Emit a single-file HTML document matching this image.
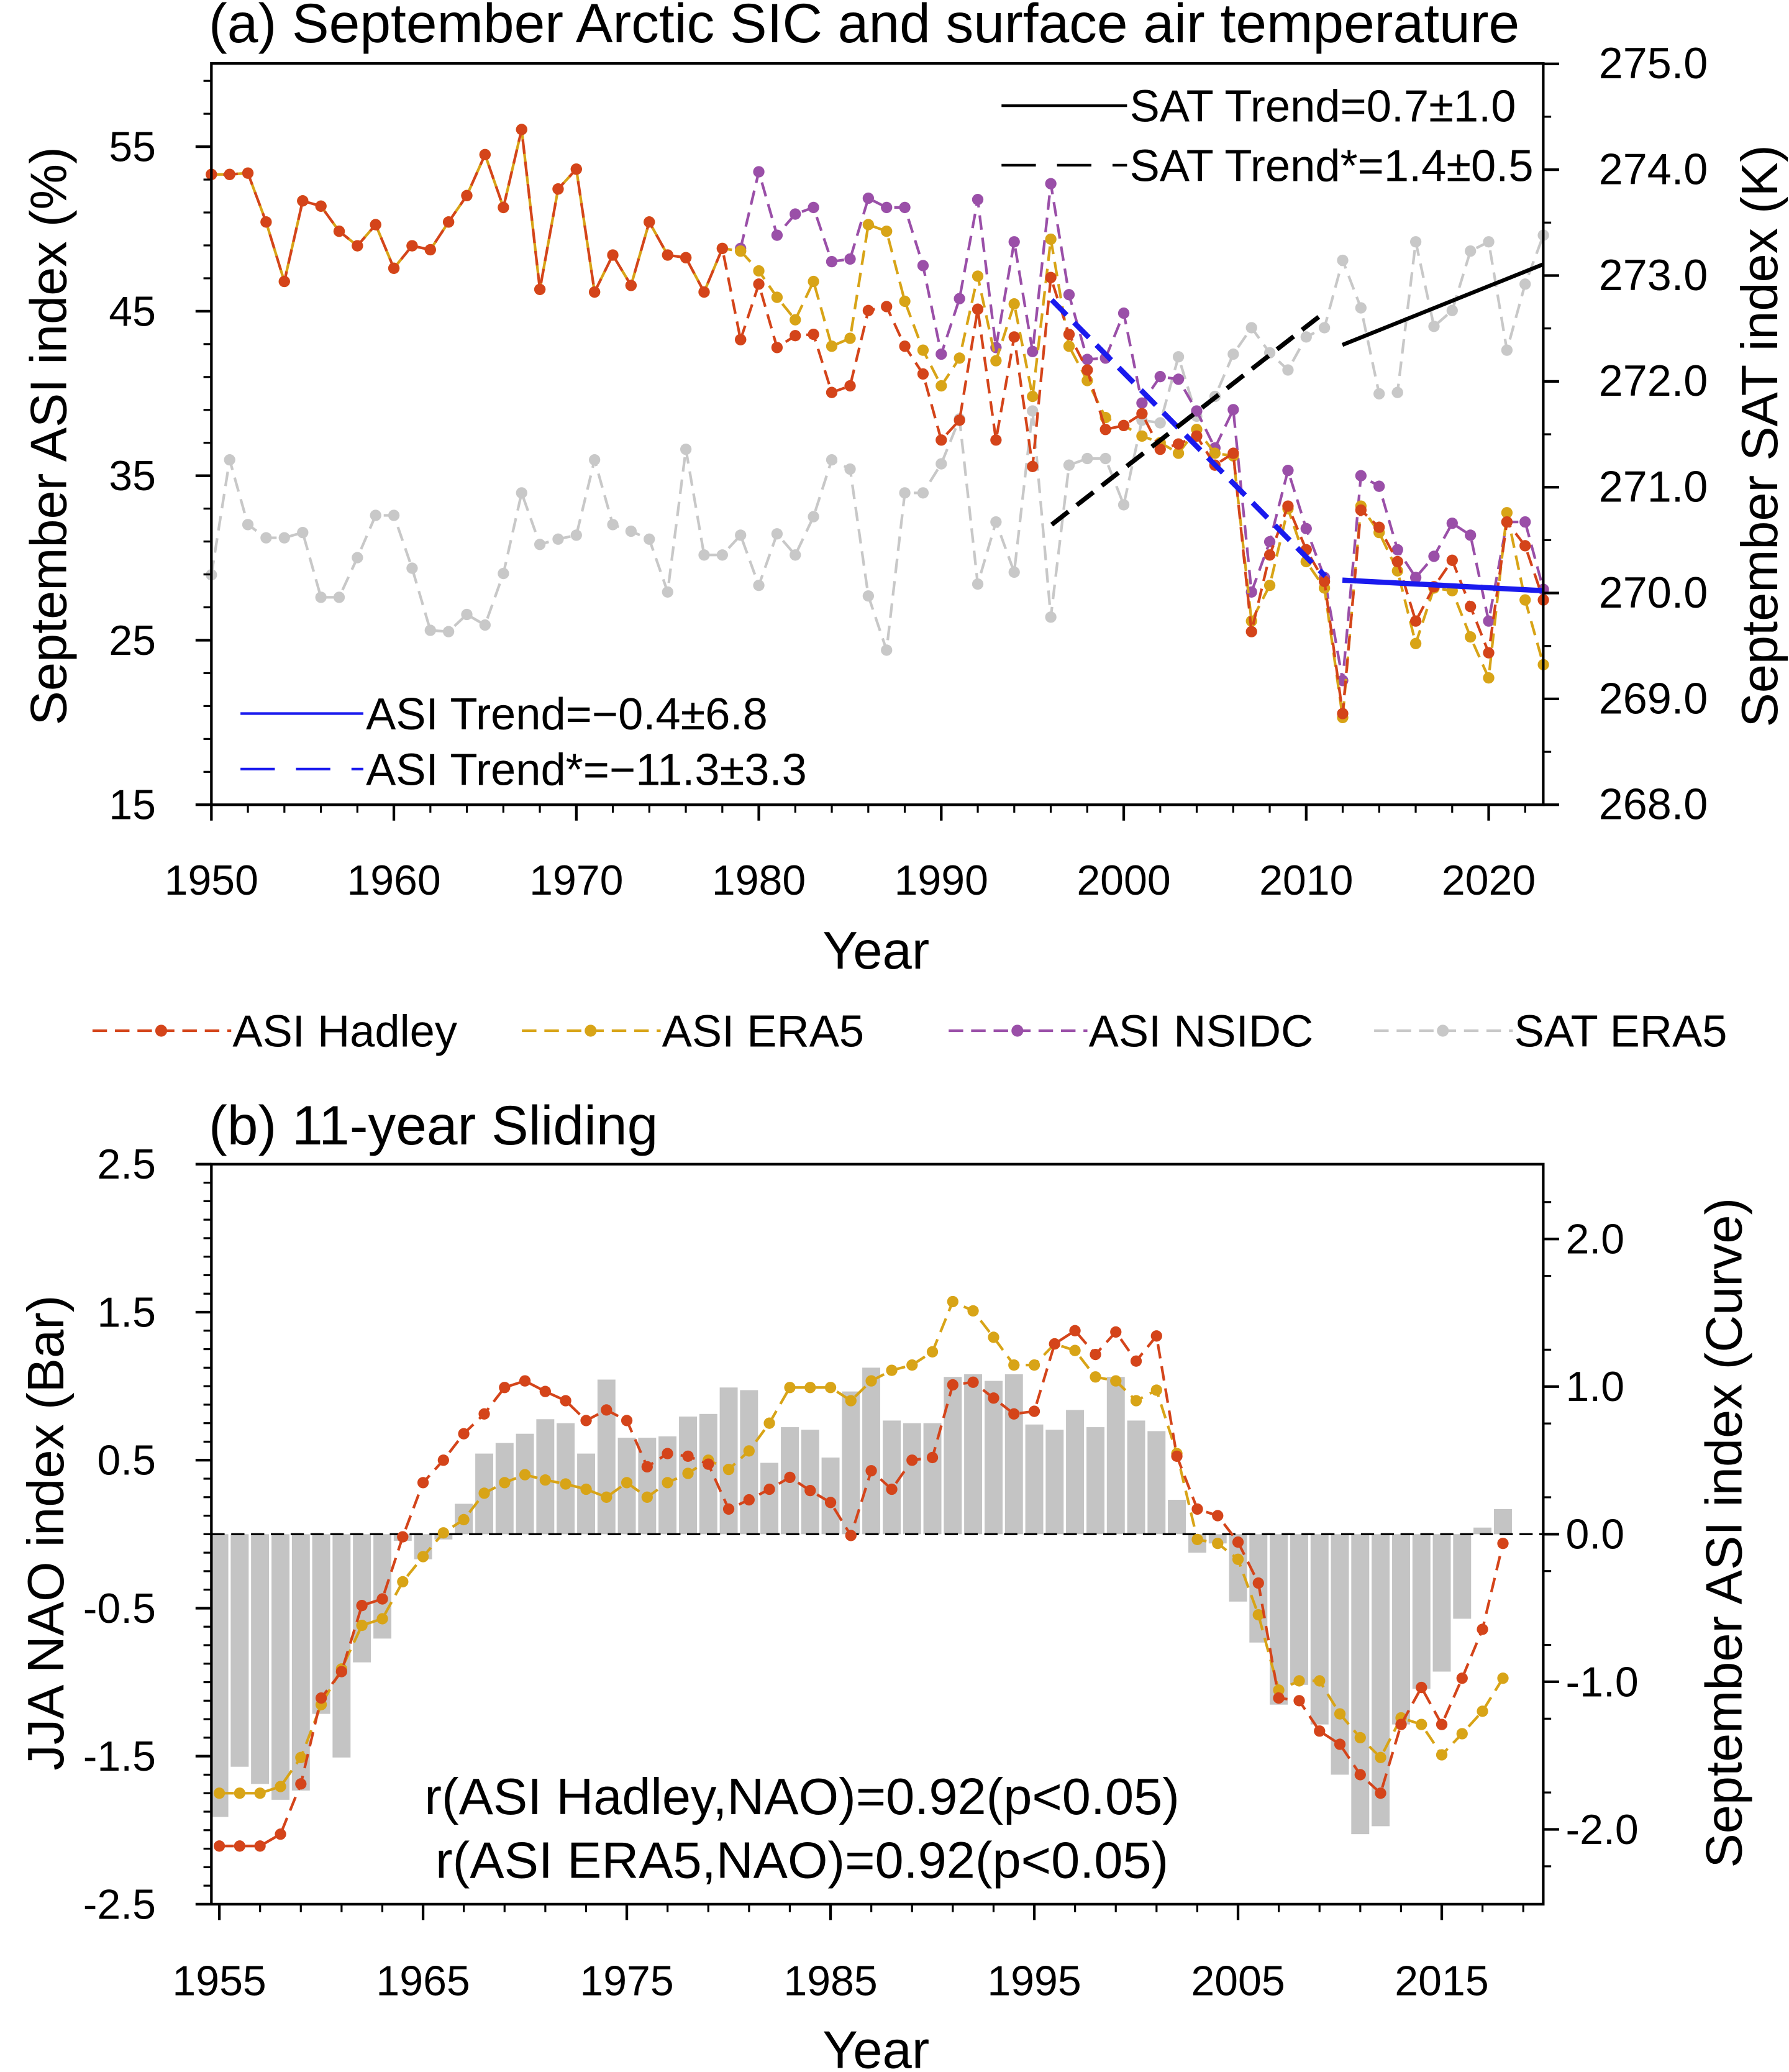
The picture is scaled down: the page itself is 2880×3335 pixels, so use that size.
<!DOCTYPE html>
<html><head><meta charset="utf-8"><style>
html,body{margin:0;padding:0;background:#fff;}
svg{display:block;}
text{font-family:"Liberation Sans",sans-serif;fill:#000;}
</style></head><body>
<svg id="s" width="2880" height="3335" viewBox="0 0 1354 1568" preserveAspectRatio="none" xmlns="http://www.w3.org/2000/svg"></svg>
<script>
var o=[];
function L(x1,y1,x2,y2,c,w,d){o.push('<line x1="'+x1+'" y1="'+y1+'" x2="'+x2+'" y2="'+y2+'" stroke="'+c+'" stroke-width="'+w+'"'+(d?' stroke-dasharray="'+d+'"':'')+'/>');}
function T(x,y,s,sz,a,rot){o.push('<text x="'+x+'" y="'+y+'" font-size="'+sz+'" text-anchor="'+(a||'start')+'"'+(rot?' transform="rotate(-90 '+x+' '+y+')"':'')+'>'+s+'</text>');}
function series(x0,y0,dx,ys,c,off){var p=ys.map(function(y,i){return (x0+i*dx).toFixed(1)+','+y;}).join(' ');
o.push('<polyline points="'+p+'" fill="none" stroke="'+c+'" stroke-width="2" stroke-dasharray="11,6"'+(off?' stroke-dashoffset="'+off+'"':'')+'/>');
ys.forEach(function(y,i){o.push('<circle cx="'+(x0+i*dx).toFixed(1)+'" cy="'+y+'" r="4.3" fill="'+c+'"/>');});}
// Panel a
var ax=function(yr){return 160+(yr-1950)*13.81;};
var had=[132,132,131,168,213,152,156,175,186,170,203,186,189,168,148,117,157,98,219,143,128,221,193,216,168,193,195,221,188,257,215,263,254,253,297,292,235,232,262,283,333,318,234,333,255,353,210,253,280,325,322,313,340,336,330,352,343,478,420,383,416,440,540,386,399,425,470,444,424,459,494,395,413,454];
var era=[190,205,225,242,213,262,256,170,175,228,265,292,271,209,273,230,300,181,262,288,316,322,330,335,343,325,343,345,470,443,385,425,445,543,383,403,432,487,445,447,482,513,388,454,503];
var ns=[188,130,178,162,157,198,196,150,157,157,201,268,226,151,263,183,266,139,223,272,271,237,305,285,287,311,339,310,448,410,356,400,437,515,360,368,416,437,421,396,405,470,395,395,446];
var sat=[435,348,397,407,407,403,452,452,422,390,390,430,477,478,465,473,434,373,412,408,405,348,397,402,408,448,340,420,420,405,443,404,420,391,348,355,451,492,373,373,351,317,442,395,433,311,467,352,347,347,382,318,320,270,315,300,268,248,267,280,255,248,197,233,298,297,183,247,235,190,183,265,215,178];
series(160,0,13.81,sat,'#c8c8c8');
series(ax(1979),0,13.81,ns,'#9a4fa8');
series(160,0,13.81,had.slice(0,29).concat([era[0]]),'#d8a417');
series(ax(1979),0,13.81,era,'#d8a417');
series(160,0,13.81,had.slice(0,30),'#d4441a',8);
series(ax(1979),0,13.81,had.slice(29),'#d4441a');
L(796,227,1003,436,'#1a1aee',4,'16,8');L(1016,439,1168,447,'#1a1aee',4);
L(796,397,1003,236,'#000',3.5,'16,8');L(1016,261,1168,200,'#000',3);
o.push('<rect x="160" y="48" width="1008" height="561" fill="none" stroke="#000" stroke-width="2"/>');
[15,25,35,45,55].forEach(function(v){var y=609-(v-15)*12.45;L(148,y,160,y,'#000',2);T(118,y+11,v,32,'end');});
for(var v=17;v<60;v+=2){var y=609-(v-15)*12.45;L(154,y,160,y,'#000',1.5);}
for(var k=268;k<=275;k++){var y=609-(k-268)*80.1;L(1168,y,1180,y,'#000',2);T(1210,y+11,k+'.0',33);}
for(var k=268.5;k<275;k+=1){var y=609-(k-268)*80.1;L(1168,y,1174,y,'#000',1.5);}
for(var yr=1950;yr<=2023;yr+=2){var x=ax(yr);L(x,609,x,(yr%10==0)?621:615,'#000',yr%10==0?2:1.5);}
for(var yr=1950;yr<=2020;yr+=10)T(ax(yr),677,yr,32,'middle');
T(663,733,'Year',40,'middle');
T(50,330,'September ASI index (%)',39,'middle',1);
T(1345,330,'September SAT index (K)',39,'middle',1);
T(158,32,'(a) September Arctic SIC and surface air temperature',42);
L(758,80,853,80,'#000',2);T(855,92,'SAT Trend=0.7±1.0',34);
L(758,125,853,125,'#000',2,'26,16');T(855,137,'SAT Trend*=1.4±0.5',34);
L(182,540,275,540,'#1a1aee',2);T(277,552,'ASI Trend=−0.4±6.8',34);
L(182,582,275,582,'#1a1aee',2,'26,16');T(277,594,'ASI Trend*=−11.3±3.3',34);
// legend row
[[70,'#d4441a','ASI Hadley'],[395,'#d8a417','ASI ERA5'],[718,'#9a4fa8','ASI NSIDC'],[1040,'#c8c8c8','SAT ERA5']].forEach(function(l){
L(l[0],780,l[0]+105,780,l[1],2,'11,6');o.push('<circle cx="'+(l[0]+52)+'" cy="780" r="4.5" fill="'+l[1]+'"/>');T(l[0]+106,792,l[2],34);});
// Panel b
var bx=function(yr){return 166+(yr-1955)*15.42;};
var bars=[1375,1337,1350,1362,1355,1297,1330,1258,1240,1166,1180,1165,1138,1100,1092,1085,1074,1077,1100,1044,1088,1088,1087,1072,1070,1050,1052,1107,1080,1082,1103,1053,1035,1075,1077,1077,1042,1040,1045,1040,1078,1082,1067,1080,1042,1075,1083,1135,1175,1168,1212,1243,1290,1275,1305,1343,1388,1382,1305,1278,1265,1225,1156,1142];
bars.forEach(function(y,i){var x=bx(1955+i)-6.8;var t=Math.min(y,1161),h=Math.abs(y-1161);o.push('<rect x="'+x.toFixed(1)+'" y="'+t+'" width="13.6" height="'+h+'" fill="#c4c4c4"/>');});
L(160,1161,1168,1161,'#000',1.5,'10,5');
var rb=[1397,1397,1397,1388,1350,1285,1265,1215,1210,1163,1122,1105,1085,1070,1050,1045,1053,1060,1075,1067,1075,1110,1100,1102,1108,1142,1135,1127,1118,1128,1137,1162,1113,1127,1105,1103,1048,1046,1058,1070,1068,1017,1007,1025,1008,1030,1011,1102,1142,1147,1167,1198,1285,1287,1310,1320,1343,1357,1305,1277,1305,1270,1233,1168];
var gb=[1357,1357,1357,1352,1330,1290,1263,1230,1225,1197,1178,1160,1150,1130,1122,1116,1120,1123,1127,1133,1122,1133,1122,1115,1105,1112,1098,1077,1050,1050,1050,1060,1045,1037,1033,1023,985,992,1012,1033,1033,1017,1022,1042,1045,1060,1052,1100,1165,1168,1180,1222,1279,1272,1272,1297,1315,1330,1300,1305,1328,1312,1295,1270];
series(166,0,15.42,gb,'#d8a417');
series(166,0,15.42,rb,'#d4441a');
o.push('<rect x="160" y="881" width="1008" height="560" fill="none" stroke="#000" stroke-width="2"/>');
[2.5,1.5,0.5,-0.5,-1.5,-2.5].forEach(function(v){var y=1161-v*112;L(148,y,160,y,'#000',2);T(118,y+11,v.toFixed(1),32,'end');});
for(var v=-2.5;v<=2.5;v+=0.125){var y=1161-v*112;L(154,y,160,y,'#000',1.5);}
[2,1,0,-1,-2].forEach(function(v){var y=1161-v*111.7;L(1168,y,1180,y,'#000',2);T(1185,y+11,v.toFixed(1),32);});
for(var v=-2.25;v<=2.3;v+=0.5){var y=1161-v*111.7;L(1168,y,1174,y,'#000',1.5);}
for(var yr=1955;yr<=2019;yr+=2){var x=bx(yr);L(x,1441,x,1447,'#000',1.5);}
for(var yr=1955;yr<=2015;yr+=10){var x=bx(yr);L(x,1441,x,1453,'#000',2);T(x,1510,yr,32,'middle');}
T(663,1565,'Year',40,'middle');
T(48,1160,'JJA NAO index (Bar)',39,'middle',1);
T(1318,1160,'September ASI index (Curve)',39,'middle',1);
T(158,866,'(b) 11-year Sliding',42);
T(607,1373,'r(ASI Hadley,NAO)=0.92(p&lt;0.05)',39,'middle');
T(607,1421,'r(ASI ERA5,NAO)=0.92(p&lt;0.05)',39,'middle');
document.getElementById('s').innerHTML=o.join('');
</script>
</body></html>
